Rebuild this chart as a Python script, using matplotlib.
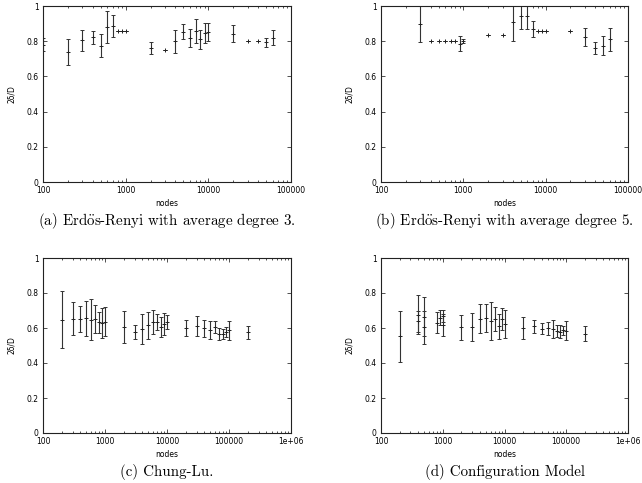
import math
import matplotlib
matplotlib.use("Agg")
import matplotlib.pyplot as plt
import matplotlib.ticker as mticker

plt.rcParams["mathtext.fontset"] = "cm"

# (a) Erdos-Renyi, average degree 3
a_nodes = [100, 200, 300, 400, 500, 600, 700, 800, 900, 1000, 2000, 3000, 4000, 5000,
           6000, 7000, 8000, 9000, 10000, 20000, 30000, 40000, 50000, 60000]
a_val = [0.78, 0.737, 0.805, 0.822, 0.775, 0.883, 0.885, 0.858, 0.858, 0.858, 0.76, 0.75,
         0.8, 0.853, 0.817, 0.858, 0.81, 0.845, 0.853, 0.843, 0.8, 0.8, 0.793, 0.82]
a_err = [0.036, 0.074, 0.061, 0.038, 0.067, 0.091, 0.062, 0, 0, 0, 0.035, 0, 0.065, 0.042,
         0.051, 0.069, 0.055, 0.056, 0.053, 0.048, 0, 0, 0.024, 0.044]

# (b) Erdos-Renyi, average degree 5
b_nodes = [300, 400, 500, 600, 700, 800, 900, 1000, 2000, 3000, 4000, 5000, 6000, 7000,
           8000, 9000, 10000, 20000, 30000, 40000, 50000, 60000]
b_val = [0.9, 0.8, 0.8, 0.8, 0.8, 0.8, 0.786, 0.803, 0.833, 0.833, 0.908, 0.943, 0.943,
         0.871, 0.857, 0.857, 0.857, 0.857, 0.825, 0.76, 0.775, 0.811]
b_err = [0.105, 0, 0, 0, 0, 0, 0.043, 0.012, 0, 0, 0.105, 0.075, 0.075, 0.045, 0, 0, 0, 0,
         0.052, 0.035, 0.052, 0.066]

# (c) Chung-Lu
c_nodes = [200, 300, 400, 500, 600, 700, 800, 900, 1000, 2000, 3000, 4000, 5000, 6000,
           7000, 8000, 9000, 10000, 20000, 30000, 40000, 50000, 60000, 70000, 80000,
           90000, 100000, 200000]
c_val = [0.648, 0.654, 0.65, 0.657, 0.646, 0.651, 0.632, 0.628, 0.636, 0.606, 0.577, 0.594,
         0.615, 0.633, 0.632, 0.606, 0.621, 0.636, 0.601, 0.61, 0.598, 0.588, 0.605, 0.567,
         0.568, 0.575, 0.587, 0.575]
c_err = [0.163, 0.095, 0.075, 0.1, 0.117, 0.079, 0.059, 0.084, 0.083, 0.092, 0.04, 0.087,
         0.077, 0.068, 0.046, 0.057, 0.062, 0.041, 0.044, 0.057, 0.047, 0.052, 0.035, 0.033,
         0.029, 0.029, 0.054, 0.039]

# (d) Configuration model
d_nodes = [200, 400, 400, 500, 500, 800, 900, 1000, 1000, 2000, 3000, 4000, 5000, 6000,
           7000, 8000, 9000, 10000, 20000, 30000, 40000, 50000, 60000, 70000, 80000,
           90000, 100000, 200000]
d_val = [0.553, 0.675, 0.638, 0.665, 0.605, 0.63, 0.66, 0.669, 0.617, 0.603, 0.605, 0.654,
         0.658, 0.638, 0.652, 0.611, 0.652, 0.622, 0.6, 0.609, 0.597, 0.598, 0.592, 0.582,
         0.58, 0.586, 0.585, 0.568]
d_err = [0.145, 0.112, 0.059, 0.11, 0.095, 0.06, 0.045, 0.035, 0.063, 0.074, 0.081, 0.082,
         0.081, 0.108, 0.07, 0.071, 0.063, 0.08, 0.063, 0.037, 0.034, 0.039, 0.051, 0.036,
         0.038, 0.028, 0.055, 0.042]

# ö drawn through mathtext so it stays in Computer Modern like the rest
captions = [r"(a) Erd$\ddot{\mathrm{o}}$s-Renyi with average degree 3.",
            r"(b) Erd$\ddot{\mathrm{o}}$s-Renyi with average degree 5.",
            "(c) Chung-Lu.",
            "(d) Configuration Model"]

W, H = 642, 483


def fig_rect(left, top, right, bottom):
    return [left / W, 1 - bottom / H, (right - left) / W, (bottom - top) / H]


def log_label(x, pos):
    # gnuplot-style labels: plain integers, then 1e+06
    if x >= 1e6:
        return "1e+%02d" % round(math.log10(x))
    return "%d" % x


def draw_panel(fig, rect, nodes, vals, errs, xmax, caption, cap_y):
    ax = fig.add_axes(rect)
    ax.errorbar(nodes, vals, yerr=errs, fmt="+", color="#222222", ecolor="#333333",
                elinewidth=0.8, capsize=1.6, capthick=0.8, markersize=3, mew=0.7)
    ax.set_xscale("log")
    ax.set_xlim(100, xmax)
    ax.set_ylim(0, 1)
    ax.xaxis.set_major_locator(mticker.LogLocator(base=10))
    ax.xaxis.set_minor_locator(mticker.LogLocator(base=10, subs=range(2, 10)))
    ax.xaxis.set_major_formatter(mticker.FuncFormatter(log_label))
    ax.xaxis.set_minor_formatter(mticker.NullFormatter())
    ax.set_yticks([0, 0.2, 0.4, 0.6, 0.8, 1.0])
    ax.set_yticklabels(["0", "0.2", "0.4", "0.6", "0.8", "1"])
    ax.tick_params(which="both", direction="in", top=True, right=True, labelsize=5.5,
                   width=0.6, color="#333333", pad=3)
    ax.tick_params(which="major", length=3)
    ax.tick_params(which="minor", length=1.5)
    for s in ax.spines.values():
        s.set_linewidth(0.8)
        s.set_color("#222222")
    ax.set_xlabel("nodes", fontsize=5.5, labelpad=3)
    ax.set_ylabel("2δ/D", fontsize=5.5, labelpad=8)
    x0 = rect[0] + rect[2] / 2
    fig.text(x0, 1 - cap_y / H, caption, ha="center", va="center", fontsize=10.8,
             family="cmr10")
    return ax


fig = plt.figure(figsize=(6.42, 4.83), dpi=100)
draw_panel(fig, fig_rect(43, 6, 291, 182), a_nodes, a_val, a_err, 1e5, captions[0], 221)
draw_panel(fig, fig_rect(381, 6, 628, 182), b_nodes, b_val, b_err, 1e5, captions[1], 221)
draw_panel(fig, fig_rect(43, 258, 291, 433), c_nodes, c_val, c_err, 1e6, captions[2], 472)
draw_panel(fig, fig_rect(381, 258, 628, 433), d_nodes, d_val, d_err, 1e6, captions[3], 472)

plt.savefig("out.png", dpi=100)
plt.close()
